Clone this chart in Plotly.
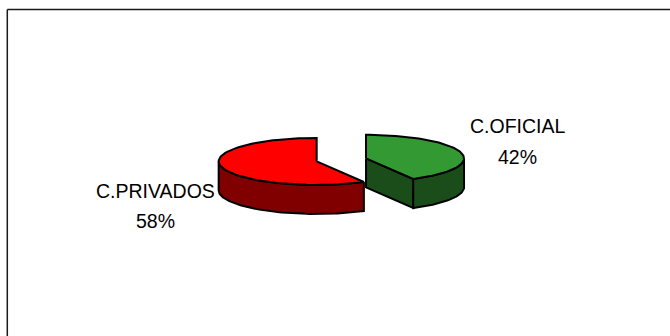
import numpy as np
import plotly.graph_objects as go

# Data
categories = ["C.OFICIAL", "C.PRIVADOS"]
values = [42, 58]
top_colors = ["#339933", "#FF0000"]
side_colors = ["#1A4D1A", "#800000"]

# 3D pie geometry (units of the horizontal radius)
TILT = 0.24        # vertical squash of the top ellipse
DEPTH = 0.296      # thickness of the pie
EXPLODE = 0.26     # distance each slice is pulled out
PX = 98.0          # pixels per unit
W, H = 670, 336
CX_PX, CY_PX = 341.35, 159.9   # pie centre in pixels


def pt(cx, cy, ang, dz=0.0):
    a = np.radians(ang)
    return cx + np.sin(a), cy + TILT * np.cos(a) - dz


def arc(cx, cy, a0, a1, dz=0.0, n=80):
    angs = np.linspace(a0, a1, n)
    r = np.radians(angs)
    return list(cx + np.sin(r)), list(cy + TILT * np.cos(r) - dz)


def poly(xs, ys, fill):
    return go.Scatter(
        x=xs + [xs[0]], y=ys + [ys[0]], mode="lines", fill="toself",
        fillcolor=fill, line=dict(color="black", width=2),
        hoverinfo="skip", showlegend=False,
    )


fig = go.Figure()

total = float(sum(values))
start = 0.0
slices = []
for v in values:
    sweep = 360.0 * v / total
    slices.append((start, start + sweep))
    start += sweep

# draw the back slice (red, left) first, then the green one
order = [1, 0]
for i in order:
    a0, a1 = slices[i]
    mid = np.radians((a0 + a1) / 2)
    cx = EXPLODE * np.sin(mid)
    cy = EXPLODE * TILT * np.cos(mid)

    # radial cut faces that face the viewer
    for edge, nrm in ((a0, a0 - 90), (a1, a1 + 90)):
        if np.cos(np.radians(nrm)) < -1e-6:
            ex, ey = pt(cx, cy, edge)
            xs = [cx, ex, ex, cx]
            ys = [cy, ey, ey - DEPTH, cy - DEPTH]
            fig.add_trace(poly(xs, ys, side_colors[i]))

    # outer curved wall on the front half
    s, e = max(a0, 90.0), min(a1, 270.0)
    if e > s:
        tx, ty = arc(cx, cy, s, e)
        bx, by = arc(cx, cy, e, s, dz=DEPTH)
        fig.add_trace(poly(tx + bx, ty + by, side_colors[i]))

    # top face
    tx, ty = arc(cx, cy, a0, a1)
    fig.add_trace(poly([cx] + tx, [cy] + ty, top_colors[i]))

# slice labels
label_pos = [(517.5, 126.0, 157.0), (155.0, 190.5, 221.0)]
font = dict(family="Liberation Sans, Arial, sans-serif", size=19.5, color="black")
for (lx, y1, y2), name, v in zip(label_pos, categories, values):
    for txt, ly in ((name, y1), (f"{v / total:.0%}", y2)):
        fig.add_annotation(
            x=lx / W, y=1 - ly / H, xref="paper", yref="paper",
            text=txt, showarrow=False, font=font,
            xanchor="center", yanchor="middle",
        )

# chart-area frame (left and top edges)
frame = dict(color="#1a1a1a", width=1.5)
fig.add_shape(type="line", xref="paper", yref="paper",
              x0=7.3 / W, x1=1.02, y0=1 - 9.5 / H, y1=1 - 9.5 / H, line=frame)
fig.add_shape(type="line", xref="paper", yref="paper",
              x0=7.3 / W, x1=7.3 / W, y0=1 - 9.5 / H, y1=-0.02, line=frame)

fig.update_layout(
    width=W, height=H, autosize=False,
    margin=dict(l=0, r=0, t=0, b=0),
    paper_bgcolor="white", plot_bgcolor="white",
    xaxis=dict(range=[-CX_PX / PX, (W - CX_PX) / PX], visible=False, fixedrange=True),
    yaxis=dict(range=[(CY_PX - H) / PX, CY_PX / PX], visible=False, fixedrange=True),
    showlegend=False,
)

fig.write_html("out.html")
